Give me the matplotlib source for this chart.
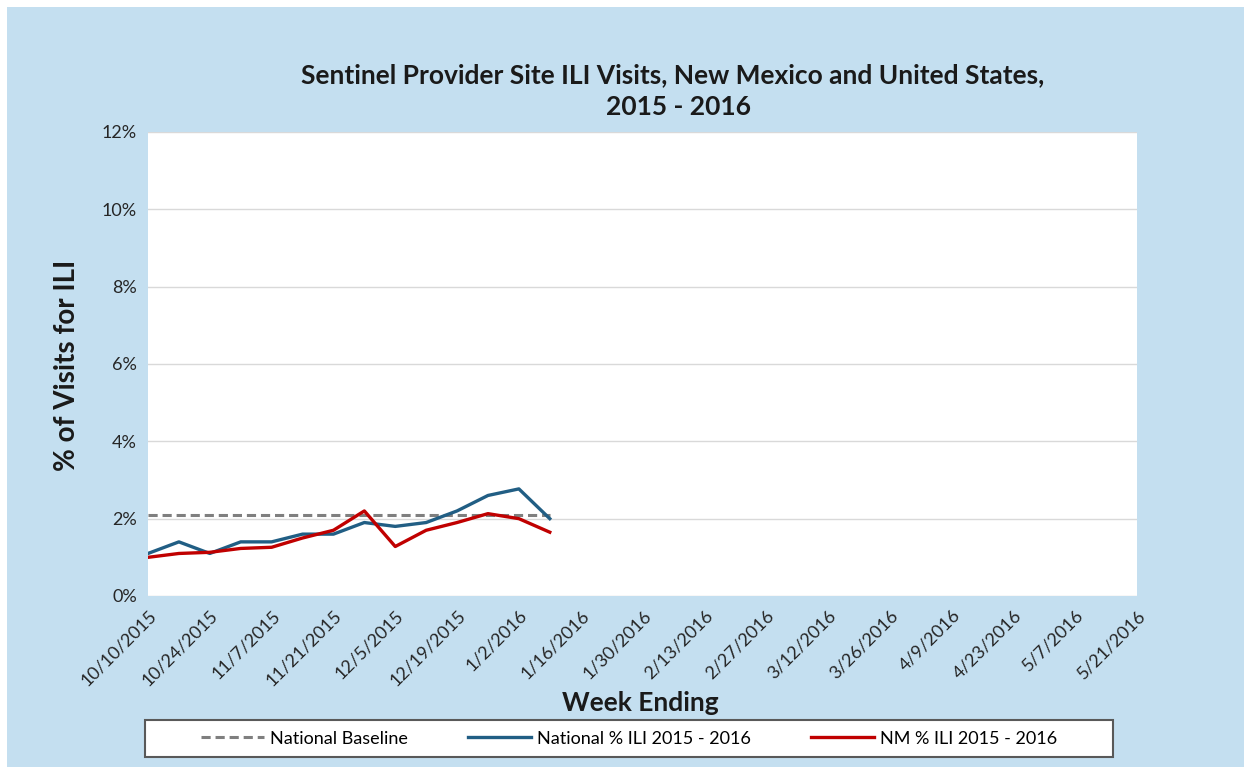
import numpy as np
import matplotlib.pyplot as plt
from matplotlib.patches import Rectangle

# week ending labels (every second week shown on the axis)
tick_labels = ['10/10/2015', '10/24/2015', '11/7/2015', '11/21/2015', '12/5/2015',
               '12/19/2015', '1/2/2016', '1/16/2016', '1/30/2016', '2/13/2016',
               '2/27/2016', '3/12/2016', '3/26/2016', '4/9/2016', '4/23/2016',
               '5/7/2016', '5/21/2016']
n_weeks = 33

# % of visits for ILI, weeks 10/10/2015 .. 1/9/2016
national = [1.1, 1.4, 1.1, 1.4, 1.4, 1.6, 1.6, 1.9, 1.8, 1.9, 2.2, 2.6, 2.77, 2.0]
nm = [1.0, 1.1, 1.13, 1.23, 1.26, 1.5, 1.7, 2.2, 1.28, 1.7, 1.9, 2.13, 2.0, 1.65]
baseline = [2.1] * len(national)

plt.rcParams['font.family'] = ['Lato', 'DejaVu Sans']

fig = plt.figure(figsize=(12.44, 7.67), dpi=100)
fig.patch.set_facecolor('white')
# light blue chart area
fig.patches.append(Rectangle((7/1244, 0), 1 - 7/1244, 1 - 7/767, transform=fig.transFigure,
                             facecolor='#C4DFF0', edgecolor='none', zorder=-1))
# legend box
fig.patches.append(Rectangle((145/1244, 10/767), 968/1244, 37/767, transform=fig.transFigure,
                             facecolor='white', edgecolor='#595959', lw=1.5, zorder=1))

ax = fig.add_axes([148/1244, 171/767, 989/1244, 464/767])
ax.set_facecolor('white')

x = np.arange(len(national))
ax.plot(x, baseline, color='#7F7F7F', lw=2.2, ls=(0, (3, 1.6)), label='National Baseline')
ax.plot(x, national, color='#215E84', lw=2.4, label='National % ILI 2015 - 2016')
ax.plot(x, nm, color='#C00000', lw=2.4, label='NM % ILI 2015 - 2016')

ax.set_xlim(0, n_weeks - 1)
ax.set_ylim(0, 12)
ax.set_yticks(np.arange(0, 13, 2))
ax.set_yticklabels(['%d%%' % v for v in range(0, 13, 2)], fontsize=13, color='#262626')
ax.set_xticks(np.arange(0, n_weeks, 2))
ax.set_xticklabels(tick_labels, rotation=45, ha='right', va='top', rotation_mode='anchor',
                   fontsize=13, color='#262626')
ax.tick_params(axis='both', length=0, pad=8)
ax.grid(axis='y', color='#D9D9D9', lw=1)
ax.set_axisbelow(True)
for s in ax.spines.values():
    s.set_visible(False)

fig.text(673/1244, 1 - 75/767, 'Sentinel Provider Site ILI Visits, New Mexico and United States,',
         ha='center', va='center', fontsize=19, fontweight='bold', color='#1A1A1A')
fig.text(678/1244, 1 - 107/767, '2015 - 2016', ha='center', va='center',
         fontsize=19, fontweight='bold', color='#1A1A1A')
fig.text(67/1244, 1 - 365/767, '% of Visits for ILI', rotation=90, ha='center', va='center',
         fontsize=20, fontweight='bold', color='#1A1A1A')
fig.text(640/1244, 1 - 703/767, 'Week Ending', ha='center', va='center',
         fontsize=19, fontweight='bold', color='#1A1A1A')

leg = fig.legend(loc='center', bbox_to_anchor=(629/1244, 28.5/767), ncol=3, fontsize=13,
                 frameon=False, handlelength=3.5, handletextpad=0.35, columnspacing=3.3)
leg.set_zorder(2)

plt.savefig('out.png', dpi=100, facecolor=fig.get_facecolor())
